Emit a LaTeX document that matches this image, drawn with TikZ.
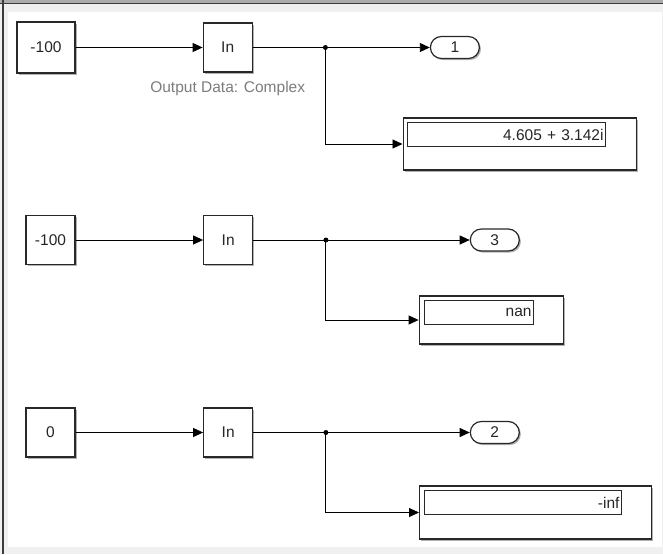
\documentclass[tikz,border=0pt]{standalone}
\usepackage{fontspec}
\setmainfont{Liberation Sans}
\usetikzlibrary{arrows.meta, positioning, shadows}
\definecolor{panel}{RGB}{240,240,240}
\definecolor{band}{RGB}{172,172,172}
\definecolor{rim}{RGB}{60,60,60}
\definecolor{edge}{RGB}{40,40,40}
\definecolor{tagtext}{RGB}{125,125,125}

\begin{document}
\begin{tikzpicture}[
    x=1pt, y=-1pt,
    >={Triangle[length=10pt, width=9pt]},
    font=\fontsize{15.5}{18}\selectfont,
    block/.style={rectangle, draw=edge, line width=1.2pt, fill=white, text=black!85, inner sep=0pt, minimum width=#1, minimum height=49pt, drop shadow={shadow xshift=1.6pt, shadow yshift=-1.6pt, opacity=0.3, fill=black}},
    block/.default=49pt,
    outport/.style={rectangle, rounded corners=11pt, draw=edge, line width=1.2pt, fill=white, text=black!85, inner sep=0pt, minimum width=49pt, minimum height=22pt, drop shadow={shadow xshift=1.6pt, shadow yshift=-1.6pt, opacity=0.3, fill=black}},
    display/.style={rectangle, draw=edge, line width=1.2pt, fill=white, anchor=west, inner sep=0pt, minimum width=#1, drop shadow={shadow xshift=1.6pt, shadow yshift=-1.6pt, opacity=0.3, fill=black}},
    field/.style={rectangle, draw=edge, line width=1pt, anchor=north west, inner xsep=2pt, inner ysep=0pt, minimum height=24pt, text width=#1, align=right, text=black!85},
    signal/.style={->, line width=0.9pt, black},
    tag/.style={text=tagtext, inner sep=0pt}
  ]

  % Frame
  \useasboundingbox (0,0) rectangle (663,554);
  \fill[panel] (0,0) rectangle (663,554);
  \fill[white] (8,12) rectangle (662,547);
  \fill[band] (0,0) rectangle (663,3);
  \fill[rim] (0,3) rectangle (663,4.3);
  \fill[rim] (2,0) rectangle (4,554);

  % Row 1
  \node[block=58pt, minimum height=51pt] (c1) at (46,47.5) {-100};
  \node[block, right=127pt of c1] (ln1) {In};
  \node[tag, below=8pt of ln1] (note1) {Output Data: Complex};
  \coordinate[right=72.6pt of ln1] (j1);
  \node[outport, right=177pt of ln1] (out1) {1};
  \node[display=233.5pt, minimum height=52pt] (disp1) at (402.5,144) {};
  \node[field=194pt] (val1) at ([xshift=4.5pt, yshift=-5pt]disp1.north west) {4.605 + 3.142i};

  % Row 2
  \node[block] (c2) at (50.5,240) {-100};
  \node[block, right=127.5pt of c2] (ln2) {In};
  \coordinate[right=72.6pt of ln2] (j2);
  \node[outport, right=216.4pt of ln2] (out2) {3};
  \node[display=144.5pt, minimum height=48pt] (disp2) at (418.6,320) {};
  \node[field=105pt] (val2) at ([xshift=5.4pt, yshift=-5pt]disp2.north west) {nan};

  % Row 3
  \node[block] (c3) at (50.5,432.5) {0};
  \node[block, right=127.5pt of c3] (ln3) {In};
  \coordinate[right=72.6pt of ln3] (j3);
  \node[outport, right=216.4pt of ln3] (out3) {2};
  \node[display=232pt, minimum height=53pt] (disp3) at (419,512.5) {};
  \node[field=193.5pt] (val3) at ([xshift=4.5pt, yshift=-5pt]disp3.north west) {-inf};

  % Signals
  \foreach \r in {1,2,3} {
    \draw[signal] (c\r) -- (ln\r);
    \draw[signal] (ln\r) -- (out\r);
    \draw[signal] (j\r) |- (disp\r.west);
    \fill (j\r) circle (2.5pt);
  }

\end{tikzpicture}
\end{document}
